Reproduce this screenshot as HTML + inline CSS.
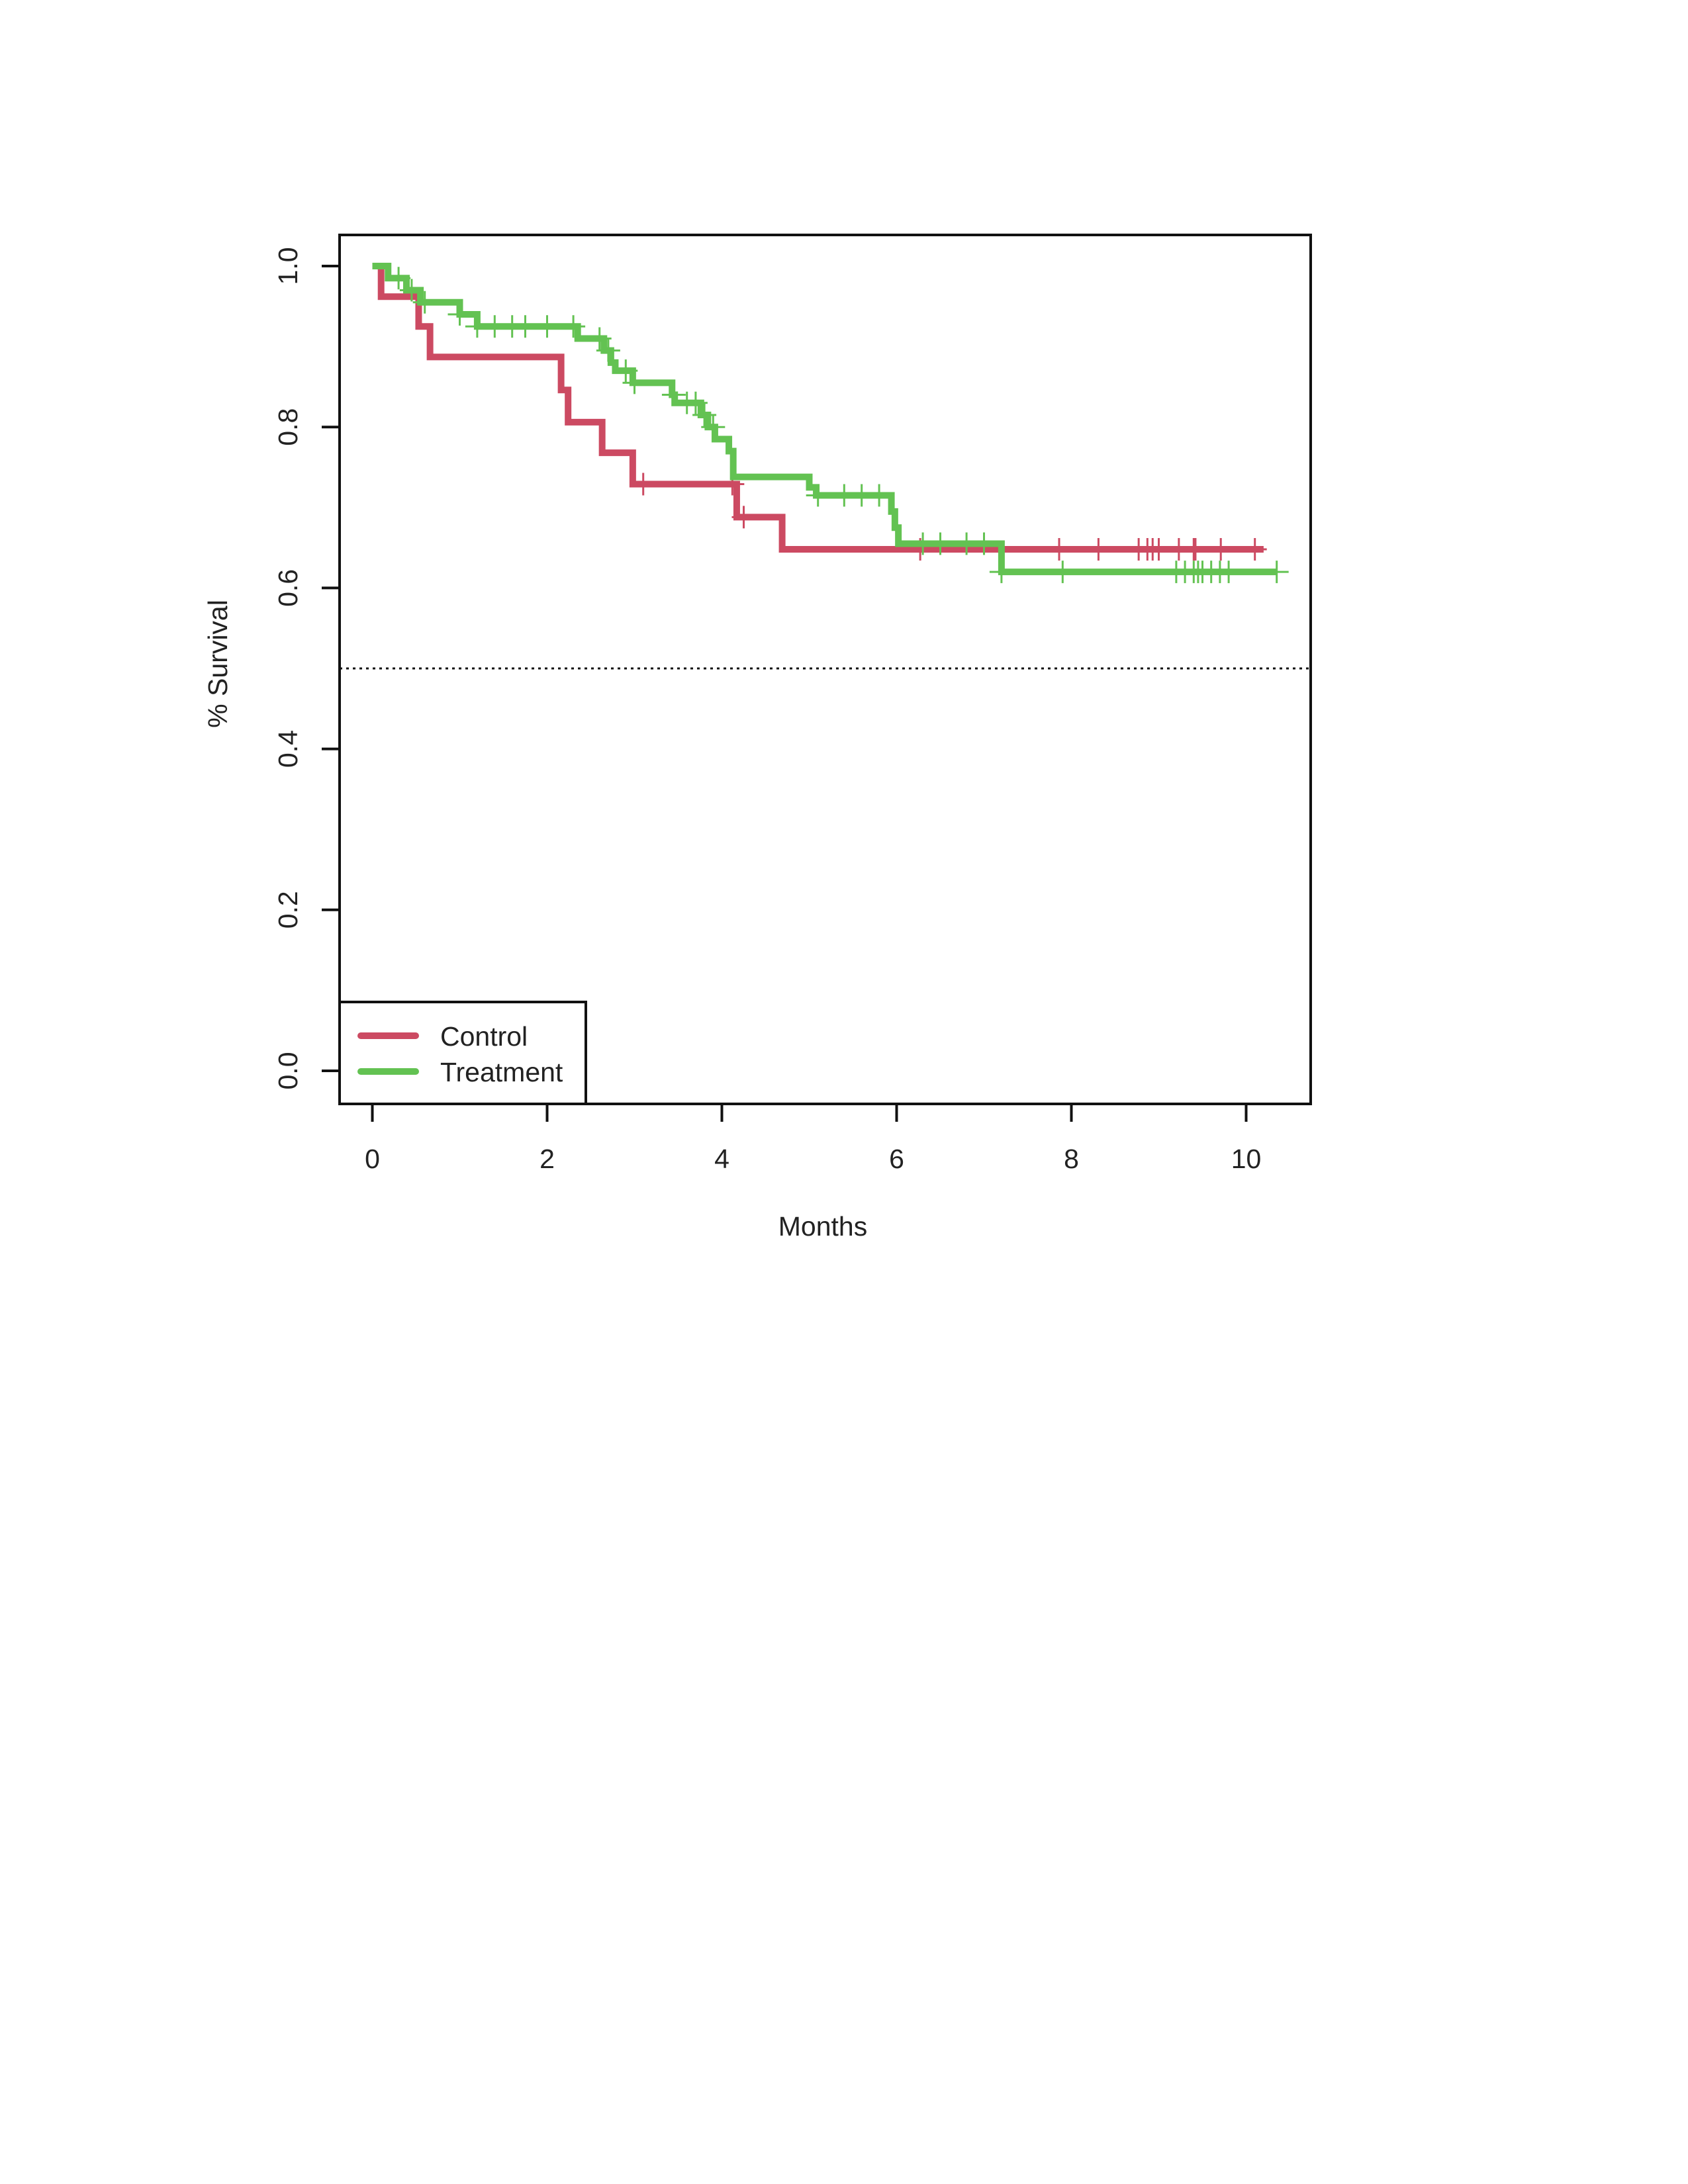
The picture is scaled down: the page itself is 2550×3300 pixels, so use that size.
<!DOCTYPE html>
<html><head><meta charset="utf-8"><style>
html,body{margin:0;padding:0;background:#fff;}
svg{display:block;font-family:"Liberation Sans",Arial,sans-serif;}
</style></head><body>
<svg id="chart" width="2550" height="3300" viewBox="0 0 2550 3300" xmlns="http://www.w3.org/2000/svg">
<rect width="2550" height="3300" fill="#fff"/>
<g id="marks"></g>
<rect x="513" y="355" width="1467" height="1313" fill="none" stroke="#111" stroke-width="4"/>
<g id="axes"></g>
<text x="1243" y="1867" font-size="41" text-anchor="middle" fill="#222">Months</text>
<text transform="translate(343,1003) rotate(-90)" font-size="41" text-anchor="middle" fill="#222">% Survival</text>
<g>
<rect x="513" y="1514" width="372" height="154" fill="#fff" stroke="#111" stroke-width="4"/>
<line x1="545" y1="1565" x2="628" y2="1565" stroke="#cc4a62" stroke-width="10" stroke-linecap="round"/>
<text x="665" y="1580" font-size="41" fill="#222">Control</text>
<line x1="545" y1="1619" x2="628" y2="1619" stroke="#63c252" stroke-width="10" stroke-linecap="round"/>
<text x="665" y="1634" font-size="41" fill="#222">Treatment</text>
</g>
</svg>
<script>
const xTicks = [0, 2, 4, 6, 8, 10];
const yTicks = [0.0, 0.2, 0.4, 0.6, 0.8, 1.0];
const yTickLabels = ["0.0", "0.2", "0.4", "0.6", "0.8", "1.0"];
const controlTimes = [0, 0.1, 0.53, 0.66, 2.16, 2.24, 2.63, 2.98, 4.17, 4.69];
const controlSurv = [1.0, 0.962, 0.925, 0.887, 0.846, 0.806, 0.768, 0.729, 0.688, 0.648];
const controlEnd = 10.2;
const controlCensor = [3.1, 4.12, 4.25, 6.27, 7.86, 8.31, 8.77, 8.87, 8.93, 9.0, 9.23, 9.4, 9.42, 9.71, 10.1];
const treatTimes = [0, 0.18, 0.39, 0.55, 1.0, 1.2, 2.35, 2.65, 2.73, 2.78, 2.98, 3.43, 3.46, 3.76, 3.84, 3.92, 4.08, 4.13, 5.0, 5.08, 5.94, 5.98, 6.02, 7.2];
const treatSurv = [1.0, 0.985, 0.97, 0.955, 0.94, 0.925, 0.91, 0.895, 0.88, 0.87, 0.855, 0.84, 0.83, 0.815, 0.8, 0.785, 0.77, 0.738, 0.725, 0.715, 0.695, 0.675, 0.655, 0.62];
const treatEnd = 10.35;
const treatCensor = [0.3, 0.45, 0.6, 1.0, 1.2, 1.4, 1.6, 1.75, 2.0, 2.3, 2.6, 2.7, 2.9, 3.0, 3.45, 3.6, 3.7, 3.8, 3.9, 5.1, 5.4, 5.6, 5.8, 6.3, 6.5, 6.8, 7.0, 7.2, 7.9, 9.2, 9.3, 9.4, 9.45, 9.5, 9.6, 9.7, 9.8, 10.35];

const NS = "http://www.w3.org/2000/svg";
const X = t => 562.5 + t * 132;
const Y = s => 1618 - s * 1216;
function mk(tag, attrs, parent) {
  const e = document.createElementNS(NS, tag);
  for (const k in attrs) e.setAttribute(k, attrs[k]);
  parent.appendChild(e);
  return e;
}
const marks = document.getElementById('marks');
const axes = document.getElementById('axes');

const ref = mk('line', {x1: 513, x2: 1980, y1: Y(0.5), y2: Y(0.5), stroke: '#111', 'stroke-width': 3, 'stroke-dasharray': '4 6'}, marks);



function survAt(times, surv, t) {
  let s = surv[0];
  for (let i = 0; i < times.length; i++) if (times[i] <= t) s = surv[i];
  return s;
}
function drawCurve(times, surv, end, censor, color, name) {
  let d = 'M' + X(times[0]) + ' ' + Y(surv[0]);
  for (let i = 1; i < times.length; i++) {
    d += ' H' + X(times[i]) + ' V' + Y(surv[i]);
  }
  d += ' H' + X(end);
  const p = mk('path', {d: d, fill: 'none', stroke: color, 'stroke-width': 10, 'stroke-linejoin': 'miter'}, marks);
  
  
  censor.forEach(t => {
    const s = survAt(times, surv, t);
    const g = mk('path', {d: 'M' + (X(t) - 18) + ' ' + Y(s) + ' H' + (X(t) + 18) + ' M' + X(t) + ' ' + (Y(s) - 17) + ' V' + (Y(s) + 17), stroke: color, 'stroke-width': 3, fill: 'none'}, marks);
    
    
  });
}
drawCurve(controlTimes, controlSurv, controlEnd, controlCensor, '#cc4a62', 'control');
drawCurve(treatTimes, treatSurv, treatEnd, treatCensor, '#63c252', 'treatment');

xTicks.forEach(v => {
  const l = mk('line', {x1: X(v), x2: X(v), y1: 1668, y2: 1695, stroke: '#111', 'stroke-width': 4}, axes);
  
  
  const t = mk('text', {x: X(v), y: 1765, 'font-size': 41, 'text-anchor': 'middle', fill: '#222'}, axes);
  t.textContent = String(v);
  
  
});
yTicks.forEach((v, i) => {
  const l = mk('line', {x1: 486, x2: 513, y1: Y(v), y2: Y(v), stroke: '#111', 'stroke-width': 4}, axes);
  
  
  const t = mk('text', {transform: 'translate(449,' + Y(v) + ') rotate(-90)', 'font-size': 41, 'text-anchor': 'middle', fill: '#222'}, axes);
  t.textContent = yTickLabels[i];
  
  
});
</script>
</body></html>
